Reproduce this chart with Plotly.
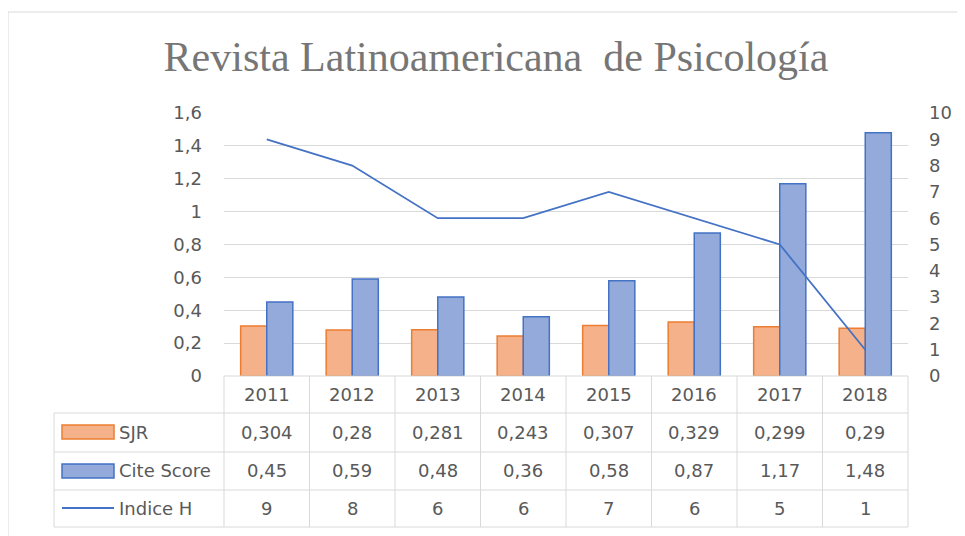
import plotly.graph_objects as go

# ---- data ----
years = ["2011", "2012", "2013", "2014", "2015", "2016", "2017", "2018"]
sjr = [0.304, 0.28, 0.281, 0.243, 0.307, 0.329, 0.299, 0.29]
cite_score = [0.45, 0.59, 0.48, 0.36, 0.58, 0.87, 1.17, 1.48]
indice_h = [9, 8, 6, 6, 7, 6, 5, 1]
series_names = ["SJR", "Cite Score", "Indice H"]
title_text = "Revista Latinoamericana \u00a0de Psicología"

# ---- layout geometry (screen pixels; page body has 8px margin) ----
OFF = 8
W, H = 965 - OFF, 536 - OFF
L, R, T, B = 224, 908, 113, 376   # plot area in screen pixels

def px(x):
    return (x - L) / (R - L)

def py(y):
    return (B - y) / (B - T)

def fmt(v):
    return str(v).replace(".", ",")

GRAY = "#595959"
GRID = "#D9D9D9"
ORANGE_FILL = "#F5B28A"
ORANGE_LINE = "#ED7D31"
BLUE_FILL = "#93AADB"
BLUE_LINE = "#4472C4"
FONT = "DejaVu Sans, sans-serif"
TXT = dict(family=FONT, size=18, color=GRAY)

fig = go.Figure()
fig.add_trace(go.Bar(x=years, y=sjr, name=series_names[0],
                     marker=dict(color=ORANGE_FILL, line=dict(color=ORANGE_LINE, width=1.5))))
fig.add_trace(go.Bar(x=years, y=cite_score, name=series_names[1],
                     marker=dict(color=BLUE_FILL, line=dict(color=BLUE_LINE, width=1.5))))
fig.add_trace(go.Scatter(x=years, y=indice_h, name=series_names[2], yaxis="y2",
                         mode="lines", line=dict(color=BLUE_LINE, width=1.8)))

shapes = []
n = len(years)
line_style = dict(color=GRID, width=1)
# outer chart border
shapes.append(dict(type="rect", xref="paper", yref="paper",
                   x0=px(8), x1=px(1000), y0=py(12), y1=py(600), line=line_style))
# table horizontal lines
shapes.append(dict(type="line", xref="paper", yref="paper", x0=0, x1=1,
                   y0=py(376), y1=py(376), line=line_style))
for yy in [413, 452, 490, 527]:
    shapes.append(dict(type="line", xref="paper", yref="paper", x0=px(54), x1=1,
                       y0=py(yy), y1=py(yy), line=line_style))
# table vertical lines (category boundaries)
for k in range(n + 1):
    shapes.append(dict(type="line", xref="paper", yref="paper", x0=k / n, x1=k / n,
                       y0=py(376), y1=py(527), line=line_style))
shapes.append(dict(type="line", xref="paper", yref="paper", x0=px(54), x1=px(54),
                   y0=py(413), y1=py(527), line=line_style))
# legend keys inside the table
shapes.append(dict(type="rect", xref="paper", yref="paper", x0=px(62), x1=px(114),
                   y0=py(439), y1=py(425), fillcolor=ORANGE_FILL,
                   line=dict(color=ORANGE_LINE, width=1.5)))
shapes.append(dict(type="rect", xref="paper", yref="paper", x0=px(62), x1=px(114),
                   y0=py(478), y1=py(464), fillcolor=BLUE_FILL,
                   line=dict(color=BLUE_LINE, width=1.5)))
shapes.append(dict(type="line", xref="paper", yref="paper", x0=px(62), x1=px(114),
                   y0=py(508), y1=py(508), line=dict(color=BLUE_LINE, width=1.8)))

annotations = []
row_y = [394.5, 432.5, 471, 508.5]
rows = [years, [fmt(v) for v in sjr], [fmt(v) for v in cite_score], [fmt(v) for v in indice_h]]
for r, vals in enumerate(rows):
    for i, txt in enumerate(vals):
        annotations.append(dict(x=i, xref="x", y=py(row_y[r]), yref="paper",
                                text=txt, showarrow=False, font=TXT,
                                xanchor="center", yanchor="middle"))
for name, yy in zip(series_names, row_y[1:]):
    annotations.append(dict(x=px(117), xref="paper", y=py(yy), yref="paper",
                            text=name, showarrow=False, font=TXT,
                            xanchor="left", yanchor="middle"))

fig.update_layout(
    width=W, height=H,
    margin=dict(l=L - OFF, r=W - (R - OFF), t=T - OFF, b=H - (B - OFF), pad=0),
    paper_bgcolor="white", plot_bgcolor="white",
    separators=",.",
    showlegend=False,
    barmode="group", bargap=0.39, bargroupgap=0,
    title=dict(text=title_text, x=(496 - OFF) / W, xanchor="center",
               y=1 - (56 - OFF) / H, yanchor="middle", xref="container", yref="container",
               font=dict(family="Liberation Serif, serif", size=42, color="#767676")),
    xaxis=dict(type="category", range=[-0.5, n - 0.5], showticklabels=False,
               showgrid=False, zeroline=False, showline=False, ticks=""),
    yaxis=dict(range=[0, 1.6], dtick=0.2, tick0=0, showgrid=True, gridcolor=GRID,
               gridwidth=1, zeroline=False, showline=False, ticks="",
               tickfont=dict(family=FONT, size=18, color=GRAY),
               ticklabelstandoff=21),
    yaxis2=dict(range=[0, 10], dtick=1, tick0=0, overlaying="y", side="right",
                showgrid=False, zeroline=False, showline=False, ticks="",
                tickfont=dict(family=FONT, size=18, color=GRAY),
                ticklabelstandoff=20),
    shapes=shapes,
    annotations=annotations,
)

fig.write_html("out.html")
